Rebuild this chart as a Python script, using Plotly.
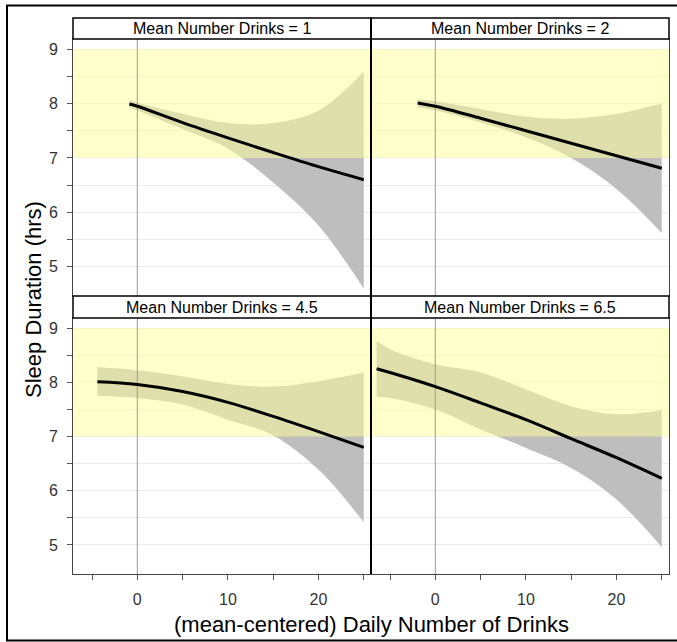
import plotly.graph_objects as go

# ---------------- data ----------------
panel_titles = ["Mean Number Drinks = 1", "Mean Number Drinks = 2",
                "Mean Number Drinks = 4.5", "Mean Number Drinks = 6.5"]

x_p1 = [-0.88, 0, 5, 10, 15, 20, 25]
fit_p1 = [7.99, 7.95, 7.65, 7.37, 7.10, 6.84, 6.60]
upper_p1 = [8.07, 8.02, 7.81, 7.64, 7.64, 7.87, 8.59]
lower_p1 = [7.93, 7.87, 7.53, 7.17, 6.55, 5.76, 4.60]

x_p2 = [-1.95, 0, 5, 10, 15, 20, 25]
fit_p2 = [8.01, 7.95, 7.73, 7.50, 7.27, 7.04, 6.81]
upper_p2 = [8.08, 8.04, 7.90, 7.76, 7.72, 7.81, 8.00]
lower_p2 = [7.93, 7.87, 7.65, 7.38, 7.00, 6.43, 5.62]

x_p3 = [-4.41, 0, 5, 10, 15, 20, 25]
fit_p3 = [8.01, 7.96, 7.83, 7.63, 7.37, 7.09, 6.80]
upper_p3 = [8.28, 8.22, 8.11, 7.97, 7.92, 8.02, 8.18]
lower_p3 = [7.75, 7.71, 7.59, 7.31, 7.02, 6.39, 5.42]

x_p4 = [-6.48, -5, 0, 5, 10, 15, 20, 25]
fit_p4 = [8.25, 8.18, 7.92, 7.62, 7.31, 6.96, 6.61, 6.23]
upper_p4 = [8.76, 8.61, 8.33, 8.18, 7.87, 7.56, 7.41, 7.49]
lower_p4 = [7.73, 7.71, 7.50, 7.13, 6.79, 6.42, 5.84, 4.96]

recommended_band = [7, 9]          # recommended sleep range (hrs)
reference_x = 0                    # mean-centred reference

y_ticks = [5, 6, 7, 8, 9]
x_ticks = [0, 10, 20]

panels = [
    (x_p1, fit_p1, lower_p1, upper_p1),
    (x_p2, fit_p2, lower_p2, upper_p2),
    (x_p3, fit_p3, lower_p3, upper_p3),
    (x_p4, fit_p4, lower_p4, upper_p4),
]

# ---------------- layout constants ----------------
W, H = 677, 642
X_RANGE = [-7.1, 25.8]
Y_RANGE = [4.465, 9.185]
FONT = "Liberation Sans, Arial, sans-serif"

col_px = [(73, 371), (371, 669)]
row_px = [(39, 296), (318, 574)]          # plot areas (top, bottom in px)
strip_px = [(18, 39), (296, 318)]

def px2x(p):
    return p / W

def px2y(p):
    return 1 - p / H

fig = go.Figure()

for i, (xs, fit, lo, up) in enumerate(panels):
    r, c = divmod(i, 2)
    n = i + 1
    xa = "x" if n == 1 else f"x{n}"
    ya = "y" if n == 1 else f"y{n}"
    # confidence ribbon
    fig.add_trace(go.Scatter(x=xs, y=lo, mode="lines", line=dict(width=0, shape="spline"),
                             xaxis=xa, yaxis=ya, showlegend=False, hoverinfo="skip"))
    fig.add_trace(go.Scatter(x=xs, y=up, mode="lines", line=dict(width=0, shape="spline"),
                             fill="tonexty", fillcolor="#BEBEBE",
                             xaxis=xa, yaxis=ya, showlegend=False, hoverinfo="skip"))
    # recommended band (drawn over ribbon, semi-transparent)
    fig.add_trace(go.Scatter(x=[X_RANGE[0], X_RANGE[1], X_RANGE[1], X_RANGE[0], X_RANGE[0]],
                             y=[recommended_band[0], recommended_band[0], recommended_band[1],
                                recommended_band[1], recommended_band[0]],
                             mode="lines", line=dict(width=0), fill="toself",
                             fillcolor="rgba(255,255,153,0.5)",
                             xaxis=xa, yaxis=ya, showlegend=False, hoverinfo="skip"))
    # reference vertical line at x = 0
    fig.add_trace(go.Scatter(x=[reference_x, reference_x], y=Y_RANGE, mode="lines",
                             line=dict(color="#9A9A9A", width=1),
                             xaxis=xa, yaxis=ya, showlegend=False, hoverinfo="skip"))
    # fitted curve
    fig.add_trace(go.Scatter(x=xs, y=fit, mode="lines",
                             line=dict(color="black", width=3, shape="spline"),
                             xaxis=xa, yaxis=ya, showlegend=False))

    x0, x1 = col_px[c]
    y0, y1 = row_px[r]
    xkey = "xaxis" if n == 1 else f"xaxis{n}"
    ykey = "yaxis" if n == 1 else f"yaxis{n}"
    bottom = (r == 1)
    left = (c == 0)
    fig.layout[xkey] = dict(
        domain=[px2x(x0), px2x(x1)], range=X_RANGE, anchor=ya,
        showgrid=False, zeroline=False,
        showline=True, mirror=True, linecolor="#444", linewidth=1,
        tickvals=x_ticks, ticktext=[str(t) for t in x_ticks],
        ticks="outside" if bottom else "", ticklen=5, tickcolor="#555",
        showticklabels=bottom, ticklabelstandoff=6,
        tickfont=dict(family=FONT, size=16, color="#333"),
        minor=dict(tickvals=[-5, 5, 15, 25], ticks="outside" if bottom else "",
                   ticklen=5, tickcolor="#555", showgrid=False),
    )
    fig.layout[ykey] = dict(
        domain=[px2y(y1), px2y(y0)], range=Y_RANGE, anchor=xa,
        showgrid=True, gridcolor="#EBEBEB", gridwidth=1, zeroline=False,
        showline=True, mirror=True, linecolor="#444", linewidth=1,
        tickvals=y_ticks, ticktext=[str(t) for t in y_ticks],
        ticks="outside" if left else "", ticklen=5, tickcolor="#555",
        showticklabels=left, ticklabelstandoff=6,
        tickfont=dict(family=FONT, size=16, color="#333"),
        minor=dict(tickvals=[5.5, 6.5, 7.5, 8.5], ticks="outside" if left else "",
                   ticklen=5, tickcolor="#555", showgrid=True, gridcolor="#EBEBEB"),
    )

shapes = []
annotations = []
for i, title in enumerate(panel_titles):
    r, c = divmod(i, 2)
    x0, x1 = col_px[c]
    s0, s1 = strip_px[r]
    shapes.append(dict(type="rect", xref="paper", yref="paper",
                       x0=px2x(x0), x1=px2x(x1), y0=px2y(s1), y1=px2y(s0),
                       fillcolor="white", line=dict(color="black", width=1.5), layer="above"))
    annotations.append(dict(text=title, xref="paper", yref="paper",
                            x=(px2x(x0) + px2x(x1)) / 2, y=(px2y(s0) + px2y(s1)) / 2,
                            xanchor="center", yanchor="middle", showarrow=False,
                            font=dict(family=FONT, size=16, color="black")))

# column divider
shapes.append(dict(type="line", xref="paper", yref="paper",
                   x0=px2x(371), x1=px2x(371), y0=px2y(574), y1=px2y(18),
                   line=dict(color="black", width=2), layer="above"))
# outer frame
shapes.append(dict(type="rect", xref="paper", yref="paper",
                   x0=px2x(7), x1=px2x(700), y0=px2y(640.5), y1=px2y(5.5),
                   line=dict(color="black", width=2), fillcolor="rgba(0,0,0,0)", layer="above"))

annotations.append(dict(text="(mean-centered) Daily Number of Drinks", xref="paper", yref="paper",
                        x=px2x(371), y=px2y(624), xanchor="center", yanchor="middle",
                        showarrow=False, font=dict(family=FONT, size=22, color="black")))
annotations.append(dict(text="Sleep Duration (hrs)", xref="paper", yref="paper",
                        x=px2x(33), y=px2y(300), xanchor="center", yanchor="middle",
                        textangle=-90, showarrow=False,
                        font=dict(family=FONT, size=22, color="black")))

fig.update_layout(width=W, height=H, autosize=False,
                  margin=dict(l=0, r=0, t=0, b=0),
                  paper_bgcolor="white", plot_bgcolor="white",
                  shapes=shapes, annotations=annotations, showlegend=False)

fig.write_html("out.html", config={"displayModeBar": False},
               post_script="document.body.style.margin='0px';document.body.style.padding='0px';")
